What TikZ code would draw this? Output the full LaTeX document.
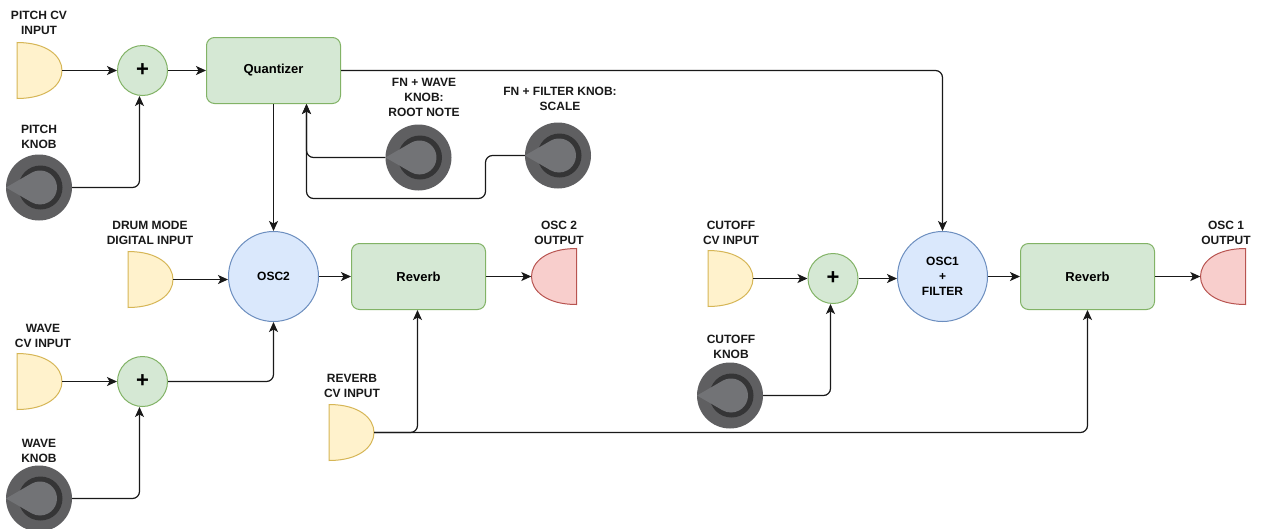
\documentclass[tikz,border=0pt]{standalone}
\usepackage{fontspec}
\setmainfont{Liberation Sans}
\usetikzlibrary{arrows.meta}
\definecolor{gfill}{HTML}{D5E8D4}\definecolor{gline}{HTML}{82B366}
\definecolor{yfill}{HTML}{FFF2CC}\definecolor{yline}{HTML}{D6B656}
\definecolor{bfill}{HTML}{DAE8FC}\definecolor{bline}{HTML}{6C8EBF}
\definecolor{rfill}{HTML}{F8CECC}\definecolor{rline}{HTML}{B85450}
\definecolor{knobout}{HTML}{5F5F61}\definecolor{knobring}{HTML}{353536}\definecolor{knobtip}{HTML}{727376}
\tikzset{
 labeltext/.style={font=\fontsize{12}{15}\selectfont\bfseries,align=center,inner sep=0pt,text=black!90},
 blockbox/.style={draw=gline,fill=gfill,line width=1pt,rounded corners=8pt,minimum width=134pt,minimum height=66pt,inner sep=0pt,font=\fontsize{13}{15}\selectfont\bfseries},
 sumnode/.style={circle,draw=gline,fill=gfill,line width=1pt,minimum size=50pt,inner sep=0pt,font=\fontsize{22}{22}\selectfont\bfseries},
 oscnode/.style={circle,draw=bline,fill=bfill,line width=1pt,minimum size=90pt,inner sep=0pt,align=center,font=\fontsize{12}{15}\selectfont\bfseries},
 portnode/.style={minimum width=45pt,minimum height=56pt,inner sep=0pt},
 knobnode/.style={circle,fill=knobout,minimum size=66pt,inner sep=0pt},
 wire/.style={line width=1.2pt,draw=black!90,rounded corners=7pt},
 arrowwire/.style={wire,-{Stealth[length=10pt,width=9pt,inset=2.5pt]}},
}
\newcommand{\inport}[3]{% name, x, y of centre
 \node[portnode] (#1) at (#2,#3) {};
 \draw[yline,fill=yfill,line width=1pt,shift={(#2,#3)}] (-22.5,-28) .. controls (8,-28) and (22.5,-14) .. (22.5,0) .. controls (22.5,14) and (8,28) .. (-22.5,28) -- cycle;}
\newcommand{\outport}[3]{%
 \node[portnode] (#1) at (#2,#3) {};
 \draw[rline,fill=rfill,line width=1pt,shift={(#2,#3)}] (22.5,-28) .. controls (-8,-28) and (-22.5,-14) .. (-22.5,0) .. controls (-22.5,14) and (-8,28) .. (22.5,28) -- cycle;}
\newcommand{\knobdial}[3]{%
 \node[knobnode] (#1) at (#2,#3) {};
 \begin{scope}[shift={(#2,#3)}]
 \fill[knobring] (1.5,0) circle[radius=22];
 \fill[knobtip] (-33,0) -- (-7.5,-14.72) arc[start angle=-120,end angle=120,radius=17] -- cycle;
 \end{scope}}
\begin{document}
\begin{tikzpicture}[x=1pt,y=-1pt]
\useasboundingbox[fill=white] (0,0) rectangle (1261,528);
% ports
\inport{pitchcv}{39.5}{70.5}
\inport{drum}{150.5}{279.5}
\inport{wavecv}{39.5}{381.5}
\inport{revcv}{351.5}{432.5}
\inport{cutcv}{730.5}{278.5}
\outport{osctwoout}{554}{276.5}
\outport{desconeout}{1223}{276.5}
% knobs
\knobdial{pitchknob}{39}{187.5}
\knobdial{waveknob}{39}{498.5}
\knobdial{rootknob}{418.5}{157.5}
\knobdial{scaleknob}{558}{155.5}
\knobdial{cutknob}{730}{395.5}
% blocks
\node[blockbox] (quant) at (273.5,70.5) {Quantizer};
\node[blockbox] (revA) at (418.5,276.5) {Reverb};
\node[blockbox] (revB) at (1087.5,276.5) {Reverb};
\node[sumnode] (sumA) at (142.5,70.5) {+};
\node[sumnode] (sumB) at (142.5,381.5) {+};
\node[sumnode] (sumC) at (833,278.5) {+};
\node[oscnode] (osctwo) at (273.5,276.5) {OSC2};
\node[oscnode] (oscone) at (942.5,276.5) {OSC1\\+\\FILTER};
% labels
\node[labeltext] (l1) at (39,22.5) {PITCH CV\\INPUT};
\node[labeltext] (l2) at (39,137) {PITCH\\KNOB};
\node[labeltext] (l3) at (424,97.5) {FN + WAVE\\KNOB:\\ROOT NOTE};
\node[labeltext] (l4) at (560,99) {FN + FILTER KNOB:\\SCALE};
\node[labeltext] (l5) at (150,232.5) {DRUM MODE\\DIGITAL INPUT};
\node[labeltext] (l6) at (559,232.5) {OSC 2\\OUTPUT};
\node[labeltext] (l7) at (43,336) {WAVE\\CV INPUT};
\node[labeltext] (l8) at (39,450.5) {WAVE\\KNOB};
\node[labeltext] (l9) at (352,385.5) {REVERB\\CV INPUT};
\node[labeltext] (l10) at (731,232.5) {CUTOFF\\CV INPUT};
\node[labeltext] (l11) at (731,347) {CUTOFF\\KNOB};
\node[labeltext] (l12) at (1226,232.5) {OSC 1\\OUTPUT};
% connectors
\coordinate (bendA) at (485.5,155.5);
\coordinate (bendB) at (485.5,198.5);
\draw[arrowwire] (pitchcv.east) -- (sumA.west);
\draw[arrowwire] (sumA.east) -- (quant.west);
\draw[arrowwire] (pitchknob.east) -| ([xshift=-3pt]sumA.south);
\draw[arrowwire] (quant.east) -| (oscone.north);
\draw[arrowwire] (quant.south) -- (osctwo.north);
\draw[arrowwire] (rootknob.west) -| ([xshift=33pt]quant.south);
\draw[arrowwire] (scaleknob.west) -- (bendA) -- (bendB) -| ([xshift=33pt]quant.south);
\draw[arrowwire] (drum.east) -- (drum.east -| osctwo.west);
\draw[arrowwire] (osctwo.east) -- (revA.west);
\draw[arrowwire] (revA.east) -- (revA.east -| osctwoout.west);
\draw[arrowwire] (wavecv.east) -- (sumB.west);
\draw[arrowwire] (sumB.east) -| (osctwo.south);
\draw[arrowwire] (waveknob.east) -| ([xshift=-3pt]sumB.south);
\draw[arrowwire] (revcv.east) -| ([xshift=-1pt]revA.south);
\draw[arrowwire] (revcv.east) -| (revB.south);
\draw[arrowwire] (cutcv.east) -- (sumC.west);
\draw[arrowwire] (sumC.east) -- (sumC.east -| oscone.west);
\draw[arrowwire] (cutknob.east) -| ([xshift=-2.5pt]sumC.south);
\draw[arrowwire] (oscone.east) -- (revB.west);
\draw[arrowwire] (revB.east) -- (revB.east -| desconeout.west);
\end{tikzpicture}
\end{document}
